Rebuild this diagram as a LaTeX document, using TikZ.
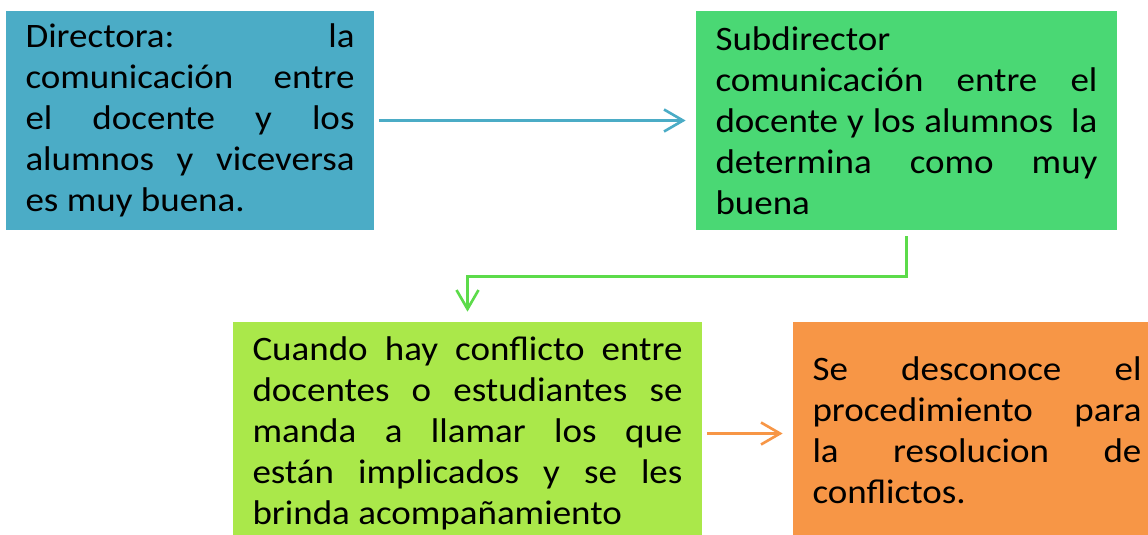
\documentclass[tikz,border=0pt]{standalone}
\usepackage{fontspec}
\setmainfont{Carlito}[FakeStretch=1.08]
\usetikzlibrary{positioning, arrows.meta}

\definecolor{azul}{HTML}{4BACC6}
\definecolor{verde}{HTML}{4AD874}
\definecolor{verdeclaro}{HTML}{AAE84A}
\definecolor{verdelinea}{HTML}{5CDB4A}
\definecolor{naranja}{HTML}{F79646}

\begin{document}
\begin{tikzpicture}[
        caja/.style={inner xsep=0.39cm, inner ysep=0pt, align=justify,
            font={\fontsize{19.5}{23.3}\selectfont\parindent=0pt}},
        flecha/.style={-{Straight Barb[length=0.38cm, width=0.44cm]}, line width=1.5pt}
    ]
    \useasboundingbox (0, 0) rectangle (22.96, -10.68);
    \clip (0, 0) rectangle (22.96, -10.68);

    \node [caja, fill=azul, text width=6.58cm, minimum height=4.38cm] (dir) at (3.8, -2.41)
        {Directora: la\linebreak comunicación entre\linebreak el docente y los\linebreak alumnos y viceversa\linebreak es muy buena.};
    \node [caja, fill=verde, text width=7.64cm, minimum height=4.38cm] (sub) at (18.13, -2.41)
        {Subdirector\newline comunicación entre el\linebreak docente y los alumnos\ \ la\linebreak determina como muy\linebreak buena};
    \node [caja, fill=verdeclaro, text width=8.6cm, minimum height=4.46cm] (conf) at (9.35, -8.67)
        {Cuando hay conflicto entre\linebreak docentes o estudiantes se\linebreak manda a llamar los que\linebreak están implicados y se les\linebreak brinda acompañamiento};
    \node [caja, fill=naranja, text width=6.58cm, minimum height=4.32cm] (sdes) at (19.54, -8.6)
        {Se desconoce el\linebreak procedimiento para\linebreak la resolucion de\linebreak conflictos.};

    \draw [flecha, azul, shorten <=0.1cm, shorten >=0.2cm] (dir.east) -- (dir.east -| sub.west);
    \draw [flecha, verdelinea, shorten <=0.12cm, shorten >=0.2cm] (sub.south) -- ++(0, -0.92) -| (conf.north);
    \draw [flecha, naranja, shorten <=0.1cm, shorten >=0.2cm] (conf.east) -- (conf.east -| sdes.west);
\end{tikzpicture}
\end{document}
